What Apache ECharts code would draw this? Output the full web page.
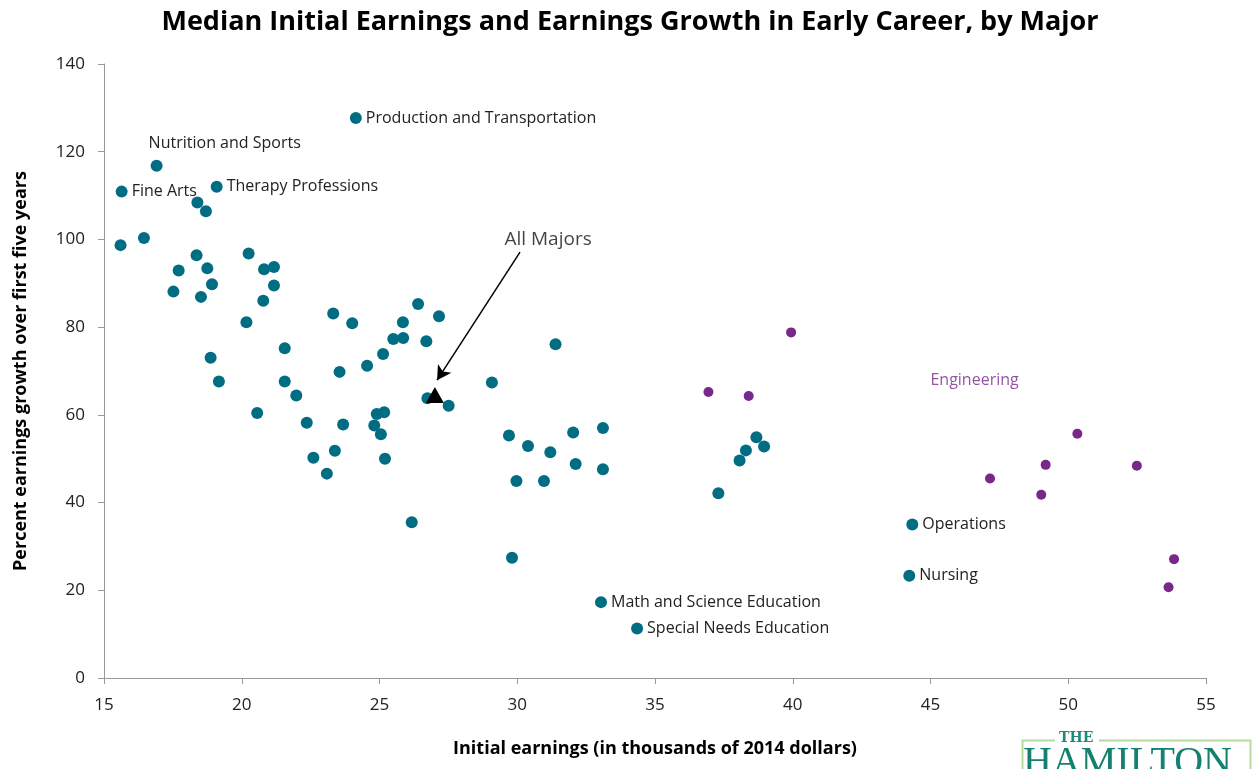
<!DOCTYPE html>
<html>
<head>
<meta charset="utf-8">
<title>Median Initial Earnings and Earnings Growth</title>
<script src="https://cdn.jsdelivr.net/npm/echarts@6/dist/echarts.min.js"></script>
<style>
html, body { margin: 0; padding: 0; background: #fff; }
#main { width: 1260px; height: 769px; }
</style>
</head>
<body>
<div id="main"></div>
<script type="text/javascript">
// initial earnings (thousands of 2014 $) and growth (%) per major
var majorsX = [15.64, 16.91, 19.09, 24.14, 18.39, 18.70, 15.60, 16.45, 18.36, 17.71,
    18.75, 18.92, 17.52, 18.52, 20.25, 20.81, 21.17, 21.17, 20.78, 20.17,
    23.32, 24.01, 26.40, 27.16, 25.85, 25.50, 25.86, 26.70, 21.56, 25.13,
    24.55, 23.55, 18.87, 19.17, 21.56, 21.98, 26.74, 27.51, 20.56, 22.36,
    23.68, 24.90, 25.17, 24.81, 25.05, 23.38, 22.60, 23.09, 25.20, 31.39,
    29.08, 29.70, 30.39, 31.20, 32.03, 33.11, 32.12, 33.11, 29.97, 30.97,
    26.17, 29.81, 33.04, 34.35, 37.30, 38.07, 38.30, 38.68, 38.96, 44.34,
    44.23];
var majorsY = [110.9, 116.8, 112.0, 127.7, 108.4, 106.4, 98.7, 100.3, 96.4, 92.9,
    93.4, 89.8, 88.1, 86.9, 96.8, 93.2, 93.7, 89.5, 86.0, 81.1,
    83.1, 80.9, 85.3, 82.5, 81.1, 77.3, 77.5, 76.8, 75.2, 73.9,
    71.2, 69.8, 73.0, 67.6, 67.6, 64.4, 63.8, 62.1, 60.4, 58.2,
    57.8, 60.2, 60.6, 57.6, 55.6, 51.8, 50.2, 46.6, 50.0, 76.1,
    67.4, 55.3, 52.9, 51.5, 56.0, 57.0, 48.8, 47.6, 44.9, 44.9,
    35.5, 27.4, 17.3, 11.3, 42.1, 49.6, 51.9, 54.9, 52.8, 35.0,
    23.3];
// labelled majors (index into the arrays above)
var majorNames = {
    0: 'Fine Arts',
    1: 'Nutrition and Sports',
    2: 'Therapy Professions',
    3: 'Production and Transportation',
    62: 'Math and Science Education',
    63: 'Special Needs Education',
    69: 'Operations',
    70: 'Nursing'
};

var engX = [36.94, 38.40, 39.94, 50.33, 49.18, 52.49, 47.16, 49.02, 53.84, 53.64];
var engY = [65.2, 64.3, 78.8, 55.7, 48.6, 48.4, 45.5, 41.8, 27.1, 20.7];

var allMajors = [27.01, 64.5];
// annotation anchors (data space)
var arrowFrom = [30.10, 97.1];
var arrowTo = [27.09, 67.9];
var allMajorsLabelAt = [31.12, 99.9];
var engLabelAt = [46.6, 67.9];

var xTicks = [15, 20, 25, 30, 35, 40, 45, 50, 55];
var yTicks = [0, 20, 40, 60, 80, 100, 120, 140];

var TEAL = '#006D82';
var PURPLE = '#77288A';
var FONT = "'Open Sans', 'Noto Sans', sans-serif";

var majorsData = majorsX.map(function (x, i) {
    var item = { value: [x, majorsY[i]], name: majorNames[i] || '' };
    if (i === 1) {
        item.label = { position: 'top', align: 'left', offset: [-8, -4] };
    }
    return item;
});
var engData = engX.map(function (x, i) { return [x, engY[i]]; });

function textSeries(name, at, text, color, size) {
    return {
        name: name,
        type: 'scatter',
        symbolSize: 0,
        silent: true,
        itemStyle: { color: 'transparent' },
        data: [at],
        label: {
            show: true,
            position: 'inside',
            fontFamily: FONT,
            fontSize: size,
            color: color,
            textBorderWidth: 0,
            formatter: text
        }
    };
}

var chart = echarts.init(document.getElementById('main'));
var option = {
    backgroundColor: '#fff',
    animation: false,
    title: {
        text: 'Median Initial Earnings and Earnings Growth in Early Career, by Major',
        left: 'center',
        top: 4,
        textStyle: { fontFamily: FONT, fontWeight: 'bold', fontSize: 27, color: '#000' }
    },
    grid: { left: 104, right: 54, top: 64, bottom: 91 },
    xAxis: {
        type: 'value',
        min: 15, max: 55, interval: 5,
        name: 'Initial earnings (in thousands of 2014 dollars)',
        nameLocation: 'middle',
        nameGap: 62,
        nameTextStyle: { fontFamily: FONT, fontWeight: 'bold', fontSize: 18, color: '#000' },
        axisLine: { lineStyle: { color: '#999' } },
        axisTick: { show: true, length: 6, lineStyle: { color: '#999' } },
        splitLine: { show: false },
        axisLabel: {
            fontFamily: FONT, fontSize: 17, color: '#222', margin: 19,
            formatter: function (v) { return xTicks.indexOf(v) >= 0 ? String(v) : ''; }
        }
    },
    yAxis: {
        type: 'value',
        min: 0, max: 140, interval: 20,
        name: 'Percent earnings growth over first five years',
        nameLocation: 'middle',
        nameGap: 74,
        nameTextStyle: { fontFamily: FONT, fontWeight: 'bold', fontSize: 18, color: '#000' },
        axisLine: { show: true, lineStyle: { color: '#999' } },
        axisTick: { show: true, length: 6, lineStyle: { color: '#999' } },
        splitLine: { show: false },
        axisLabel: {
            fontFamily: FONT, fontSize: 17, color: '#222', margin: 19,
            formatter: function (v) { return yTicks.indexOf(v) >= 0 ? String(v) : ''; }
        }
    },
    series: [
        {
            name: 'Majors',
            type: 'scatter',
            symbolSize: 12,
            itemStyle: { color: TEAL, opacity: 1 },
            data: majorsData,
            label: {
                show: true,
                position: 'right',
                distance: 4,
                fontFamily: FONT,
                fontSize: 16,
                color: '#222',
                formatter: function (p) { return p.data.name; }
            },
            z: 3
        },
        {
            name: 'Engineering',
            type: 'scatter',
            symbolSize: 10,
            itemStyle: { color: PURPLE, opacity: 1 },
            data: engData,
            z: 3
        },
        textSeries('Engineering label', engLabelAt, 'Engineering', PURPLE, 16),
        textSeries('All Majors label', allMajorsLabelAt, 'All Majors', '#111', 19),
        {
            name: 'All Majors',
            type: 'scatter',
            symbol: 'triangle',
            symbolSize: [18, 16],
            itemStyle: { color: '#000', opacity: 1 },
            data: [allMajors],
            z: 4,
            markLine: {
                silent: true,
                symbol: ['none', 'arrow'],
                symbolSize: [12, 14],
                lineStyle: { color: '#000', width: 1.5, type: 'solid' },
                label: { show: false },
                data: [[{ coord: arrowFrom }, { coord: arrowTo }]]
            }
        }
    ],
    graphic: [
        {
            type: 'rect',
            left: 1020, top: 738,
            shape: { width: 228, height: 60 },
            style: { fill: 'none', stroke: '#b6dc9c', lineWidth: 2 }
        },
        {
            type: 'rect',
            left: 1055, top: 733,
            shape: { width: 44, height: 12 },
            style: { fill: '#fff' }
        },
        {
            type: 'text',
            left: 1059, top: 731,
            style: { text: 'THE', fill: '#1f8a78', font: 'bold 14px "DejaVu Serif", serif' }
        },
        {
            type: 'text',
            left: 1023, top: 743,
            style: { text: 'HAMILTON', fill: '#14806f', font: '40px "Liberation Serif", serif' }
        }
    ]
};
chart.setOption(option);
</script>
</body>
</html>
